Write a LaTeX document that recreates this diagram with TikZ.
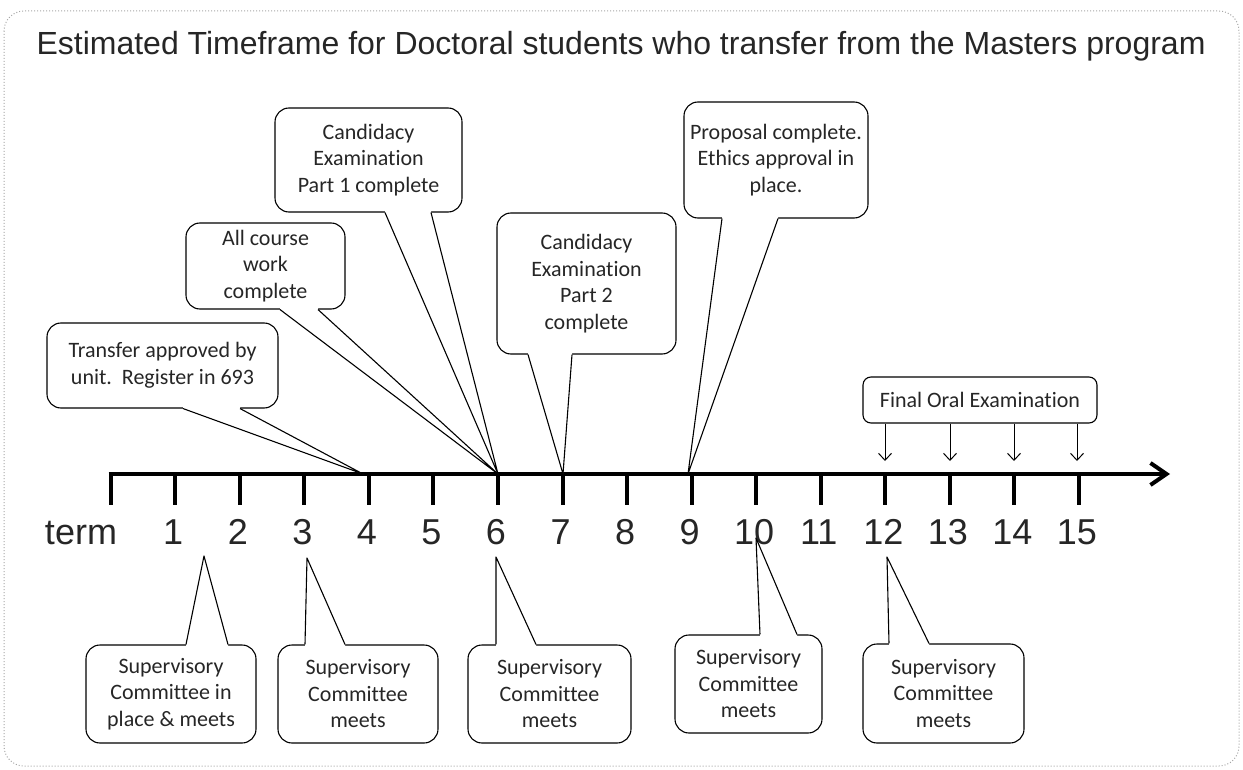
\documentclass[tikz,border=0pt]{standalone}
\usepackage{fontspec}
\setmainfont{Liberation Sans}
\newfontfamily\callfont[Ligatures=NoCommon]{Carlito}
\usetikzlibrary{arrows.meta,calc}
\newcommand\tailS[4]{%
  \coordinate (#1-a) at (#2,0 |- #1.south);
  \coordinate (#1-b) at (#3,0 |- #1.south);
  \fill[white] ($(#1-a)+(0,-2)$) -- (#1-a) -- (#4) -- (#1-b) -- ($(#1-b)+(0,-2)$) -- cycle;
  \draw[tailline] (#1-a) -- (#4) -- (#1-b);
}
\newcommand\tailN[4]{%
  \coordinate (#1-a) at (#2,0 |- #1.north);
  \coordinate (#1-b) at (#3,0 |- #1.north);
  \fill[white] ($(#1-a)+(0,2)$) -- (#1-a) -- (#4) -- (#1-b) -- ($(#1-b)+(0,2)$) -- cycle;
  \draw[tailline] (#1-a) -- (#4) -- (#1-b);
}
\begin{document}
\begin{tikzpicture}[x=1pt,y=-1pt,
  callbox/.style={draw, line width=1.1pt, rounded corners=14pt, align=center, inner sep=0pt,
    font=\callfont\fontsize{22}{26.5}\selectfont, text=black!85},
  tailline/.style={line width=1.1pt, line join=round},
  ticklbl/.style={anchor=base, font=\fontsize{36}{40}\selectfont, text=black!85},
  tickmark/.style={line width=4pt},
  droparrow/.style={line width=1pt, -{Straight Barb[length=7pt,width=13pt]}}]
\useasboundingbox (0,0) rectangle (1243,770);
\draw[gray!70, dotted, line width=1pt, rounded corners=20pt] (4,11) rectangle (1239,766);

\node[anchor=base west, font=\fontsize{32}{34}\selectfont, text=black!85] (title) at (33,55)
  {Estimated Timeframe for Doctoral students who transfer from the Masters program};

% axis
\coordinate (axstart) at (108.7,474);
\coordinate (axend) at (1170,474);
\draw[line width=4pt, -{Straight Barb[length=16pt,width=22pt]}] (axstart) -- (axend);
\foreach \i in {0,...,15} {
  \coordinate (t\i) at ({110.7+64.55*\i},474);
  \draw[tickmark] ($(t\i)+(0,-2)$) -- ($(t\i)+(0,31)$);
}
\node[ticklbl] (lterm) at (81,544) {term};
\foreach \i in {1,...,15} {
  \node[ticklbl] (l\i) at ({108.7+64.55*\i},544) {\i};
}

% upper callouts
\node[callbox, minimum width=231pt, minimum height=85pt] (tr) at (162.5,365.5)
  {Transfer approved by\\unit.\ \ Register in 693};
\coordinate (tipTr) at (363,474);
\tailS{tr}{183}{240}{tipTr}

\node[callbox, minimum width=159pt, minimum height=86pt] (cw) at (265.5,266)
  {All course\\work\\complete};
\coordinate (tipSix) at (498,474);
\tailS{cw}{280}{318}{tipSix}

\node[callbox, minimum width=187pt, minimum height=104pt] (ce1) at (368.5,160)
  {Candidacy\\Examination\\Part 1 complete};
\tailS{ce1}{385}{431}{tipSix}

\node[callbox, minimum width=179pt, minimum height=141pt] (ce2) at (586.5,283.5)
  {Candidacy\\Examination\\Part 2\\complete};
\coordinate (tipSeven) at (563,474);
\tailS{ce2}{528}{572}{tipSeven}

\node[callbox, minimum width=184pt, minimum height=116pt] (pr) at (776,160)
  {Proposal complete.\\Ethics approval in\\place.};
\coordinate (tipNine) at (688,474);
\tailS{pr}{722}{778}{tipNine}

% final oral
\node[callbox, rounded corners=8pt, minimum width=234pt, minimum height=46pt] (fo) at (980,400)
  {Final Oral Examination};
\foreach \x [count=\k] in {885,950,1014,1077} {
  \coordinate (fa\k) at (\x,461);
  \draw[droparrow] (fa\k |- fo.south) -- (fa\k);
}

% lower callouts
\node[callbox, minimum width=170pt, minimum height=98pt] (sc1) at (171,694)
  {Supervisory\\Committee in\\place \& meets};
\coordinate (tipA) at (204,556);
\tailN{sc1}{186}{228}{tipA}

\node[callbox, minimum width=160pt, minimum height=98pt] (sc2) at (358,694)
  {Supervisory\\Committee\\meets};
\coordinate (tipB) at (307,558);
\tailN{sc2}{305}{345}{tipB}

\node[callbox, minimum width=163pt, minimum height=98pt] (sc3) at (549.5,694)
  {Supervisory\\Committee\\meets};
\coordinate (tipC) at (496,557);
\tailN{sc3}{496}{536}{tipC}

\node[callbox, minimum width=147pt, minimum height=98pt] (sc4) at (748.5,684)
  {Supervisory\\Committee\\meets};
\coordinate (tipD) at (756,538);
\tailN{sc4}{760}{797}{tipD}

\node[callbox, minimum width=161pt, minimum height=99pt] (sc5) at (943.5,693.5)
  {Supervisory\\Committee\\meets};
\coordinate (tipE) at (887,557);
\tailN{sc5}{889}{929}{tipE}
\end{tikzpicture}
\end{document}
